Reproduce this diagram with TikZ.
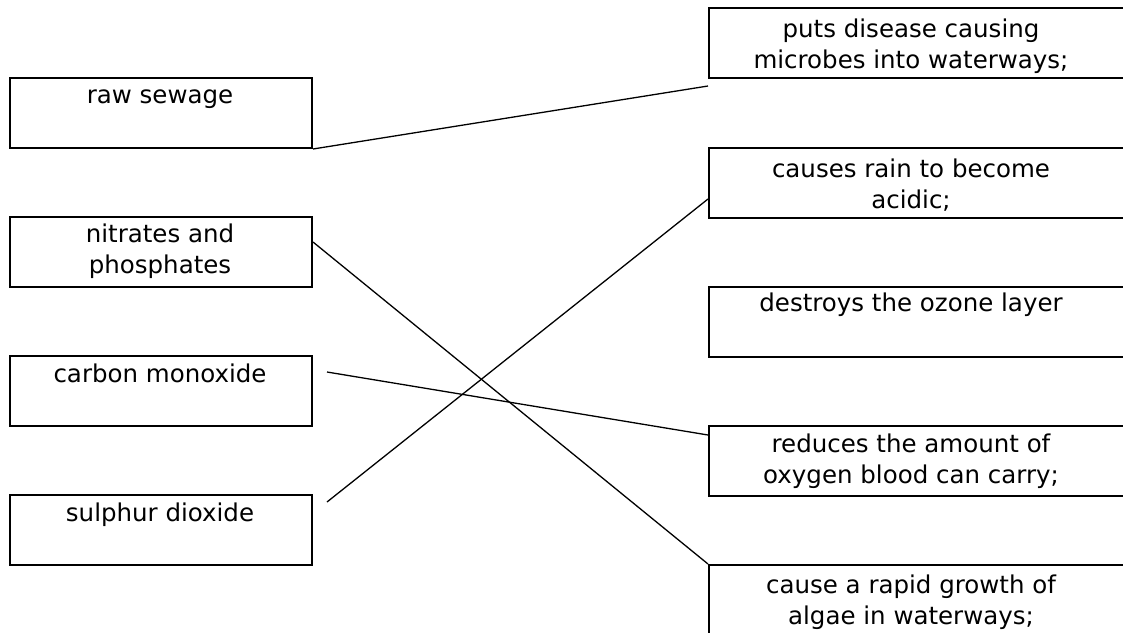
\documentclass[tikz,border=0pt]{standalone}
\usepackage{fontspec}
\setmainfont{DejaVu Sans}
\usetikzlibrary{calc}

\tikzset{
    cardbox/.style={draw, line width=2pt, anchor=north west, minimum width=#1, minimum height=70pt, inner sep=0pt},
    cardtext/.style={anchor=base, align=center, inner sep=0pt, font=\fontsize{24.5}{31}\selectfont},
    link/.style={line width=1.3pt}
}

\begin{document}
\begin{tikzpicture}[x=1pt, y=-1pt]
    \useasboundingbox (0,0) rectangle (1123,632);
    \clip (0,0) rectangle (1123,632);

    % 1. Left column: pollutants
    \node[cardbox=302pt] (sewage)   at (9,77)  {};
    \node[cardbox=302pt] (nitrates) at (9,216) {};
    \node[cardbox=302pt] (carbon)   at (9,355) {};
    \node[cardbox=302pt] (sulphur)  at (9,494) {};

    % base of the last line
    \node[cardtext] (tsewage)   at (160,103) {raw sewage};
    \node[cardtext] (tnitrates) at (160,273) {nitrates and\\phosphates};
    \node[cardtext] (tcarbon)   at (160,382) {carbon monoxide};
    \node[cardtext] (tsulphur)  at (160,521) {sulphur dioxide};

    % 2. Right column: effects (cut by the page edge)
    \node[cardbox=440pt] (microbes) at (708,7)   {};
    \node[cardbox=440pt] (acid)     at (708,147) {};
    \node[cardbox=440pt] (ozone)    at (708,286) {};
    \node[cardbox=440pt] (oxygen)   at (708,425) {};
    \node[cardbox=440pt] (algae)    at (708,564) {};

    \node[cardtext] (tmicrobes) at (911,68)  {puts disease causing\\microbes into waterways;};
    \node[cardtext] (tacid)     at (911,208) {causes rain to become\\acidic;};
    \node[cardtext] (tozone)    at (911,311) {destroys the ozone layer};
    \node[cardtext] (toxygen)   at (911,483) {reduces the amount of\\oxygen blood can carry;};
    \node[cardtext] (talgae)    at (911,624) {cause a rapid growth of\\algae in waterways;};

    % 3. Matching lines
    \coordinate (m1) at ($(microbes.south west)+(0,7)$);
    \coordinate (n1) at ($(nitrates.east)+(0,-10)$);
    \coordinate (c1) at ($(carbon.north east)+(14,17)$);
    \coordinate (o1) at ($(oxygen.north west)+(0,10)$);
    \coordinate (s1) at ($(sulphur.north east)+(14,8)$);
    \coordinate (a1) at ($(acid.south west)+(0,-20)$);

    \draw[link] (sewage.south east) -- (m1);
    \draw[link] (n1) -- (algae.north west);
    \draw[link] (c1) -- (o1);
    \draw[link] (s1) -- (a1);
\end{tikzpicture}
\end{document}
